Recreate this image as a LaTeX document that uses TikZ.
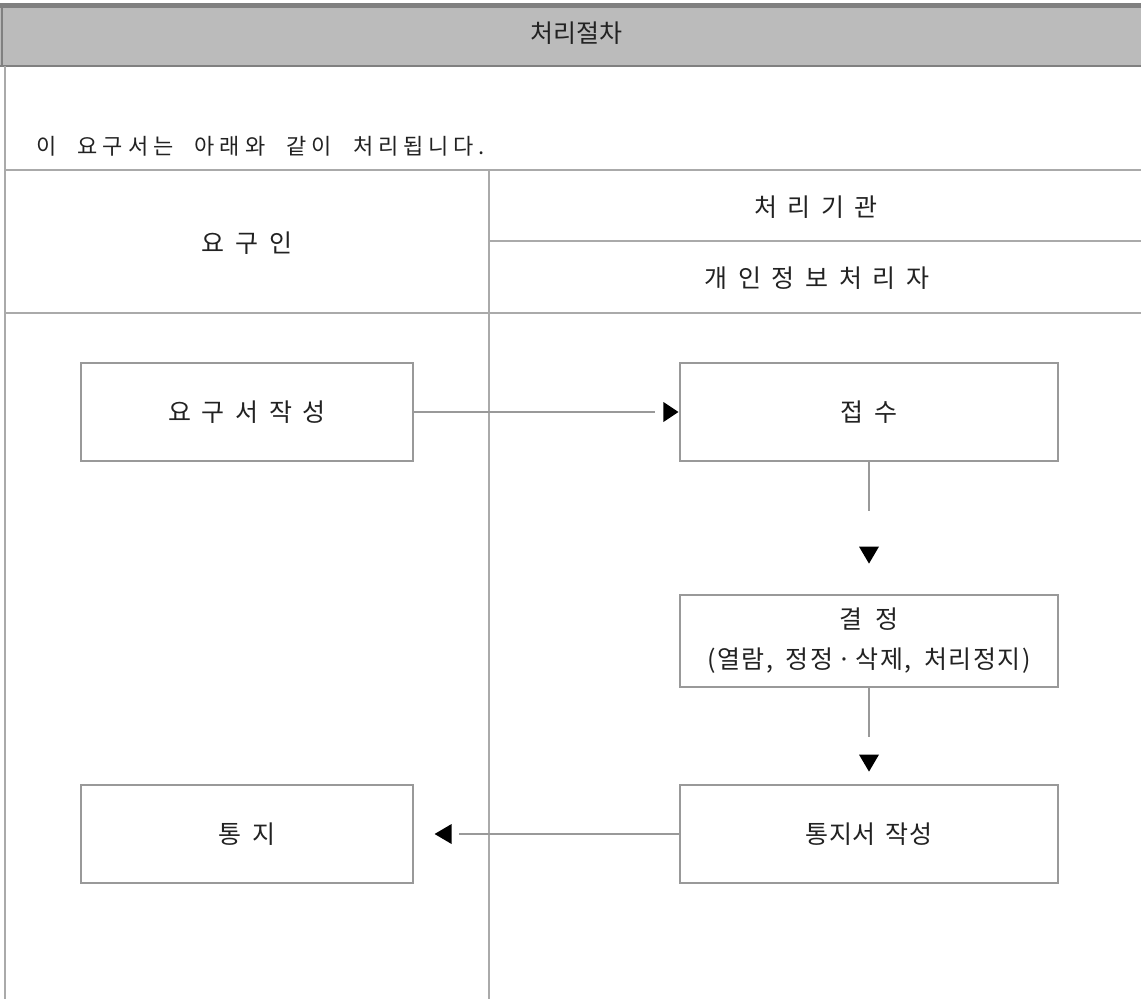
\documentclass[tikz,border=0pt]{standalone}
\usepackage{fontspec}
\setmainfont{Noto Sans CJK KR}
\newfontfamily\lblfont[LetterSpace=1,WordSpace=1.8]{Noto Sans CJK KR}
\newfontfamily\decfont[LetterSpace=6,WordSpace=1.8]{Noto Sans CJK KR}
\newfontfamily\introfont[LetterSpace=22,WordSpace=2.2]{Noto Sans CJK KR}
\newfontfamily\titlefont{Noto Sans CJK KR}
\usetikzlibrary{calc}
\definecolor{hdrfill}{HTML}{BBBBBB}
\definecolor{hdrdark}{HTML}{808080}
\definecolor{rule}{HTML}{AAAAAA}
\definecolor{boxline}{HTML}{999999}
\definecolor{ink}{HTML}{222222}
\tikzset{
  lbl/.style={inner sep=0pt, text=ink, font=\lblfont\fontsize{25}{30}\selectfont},
  stepbox/.style={draw=boxline, line width=1.2pt, rectangle, inner sep=0pt, minimum width=#1, text=ink, font=\lblfont\fontsize{25}{30}\selectfont, align=center},
  lane/.style={draw=rule, line width=1.5pt},
  conn/.style={draw=boxline, line width=1.2pt},
  tip/.style={fill=black}
}
\begin{document}
\begin{tikzpicture}[x=1pt,y=-1pt]
\useasboundingbox (0,0) rectangle (1141,999);
\fill[white] (0,0) rectangle (1141,999);
% header
\fill[hdrfill] (0,3) rectangle (1141,66);
\fill[hdrdark] (0,3) rectangle (1141,8);
\draw[hdrdark, line width=1.5pt] (0,66) -- (1141,66);
\draw[hdrdark, line width=1.2pt] (2,3) -- (2,66);
\node[inner sep=0pt, text=ink, font=\titlefont\fontsize{25}{30}\selectfont] (title) at (576,33) {처리절차};
% intro
\node[anchor=west, inner sep=0pt, text=ink, font=\introfont\fontsize{22}{26}\selectfont] (intro) at (36,146) {이 요구서는 아래와 같이 처리됩니다.};
% lanes
\draw[lane] (5,66) -- (5,999);
\draw[lane] (5,170) -- (1141,170);
\draw[lane] (489,170) -- (489,999);
\draw[lane] (489,241) -- (1141,241);
\draw[lane] (5,313) -- (1141,313);
\node[lbl] (h1) at (247,243) {요 구 인};
\node[lbl] (h2) at (816,207) {처 리 기 관};
\node[lbl] (h3) at (817,278) {개 인 정 보 처 리 자};
% boxes
\node[stepbox=332pt, minimum height=98pt] (req) at (247,412) {요 구 서 작 성};
\node[stepbox=378pt, minimum height=98pt] (rec) at (869,412) {접 수};
\node[stepbox=378pt, minimum height=92pt, font=\decfont\fontsize{25}{30}\selectfont] (dec) at (869,641) {결 정\\[10pt](열람, 정정\hspace{4pt}·\hspace{4pt}삭제, 처리정지)};
\node[stepbox=378pt, minimum height=98pt] (ntc) at (869,834) {통지서 작성};
\node[stepbox=332pt, minimum height=98pt] (notif) at (247,834) {통 지};
% connectors
\coordinate (e1) at ($(rec.west)+(-24,0)$);
\draw[conn] (req.east) -- (e1);
\fill[tip] ($(rec.west)+(-1,0)$) -- ++(-15,-10) -- ++(0,20) -- cycle;
\coordinate (e2) at ($(rec.south)+(0,49)$);
\draw[conn] (rec.south) -- (e2);
\fill[tip] ($(rec.south)+(0,102)$) -- ++(-10,-17) -- ++(20,0) -- cycle;
\coordinate (e3) at ($(dec.south)+(0,49)$);
\draw[conn] (dec.south) -- (e3);
\fill[tip] ($(dec.south)+(0,84)$) -- ++(-10,-17) -- ++(20,0) -- cycle;
\coordinate (e4) at ($(notif.east)+(45,0)$);
\draw[conn] (ntc.west) -- (e4);
\fill[tip] ($(notif.east)+(21,0)$) -- ++(17,-10) -- ++(0,20) -- cycle;
\end{tikzpicture}
\end{document}
